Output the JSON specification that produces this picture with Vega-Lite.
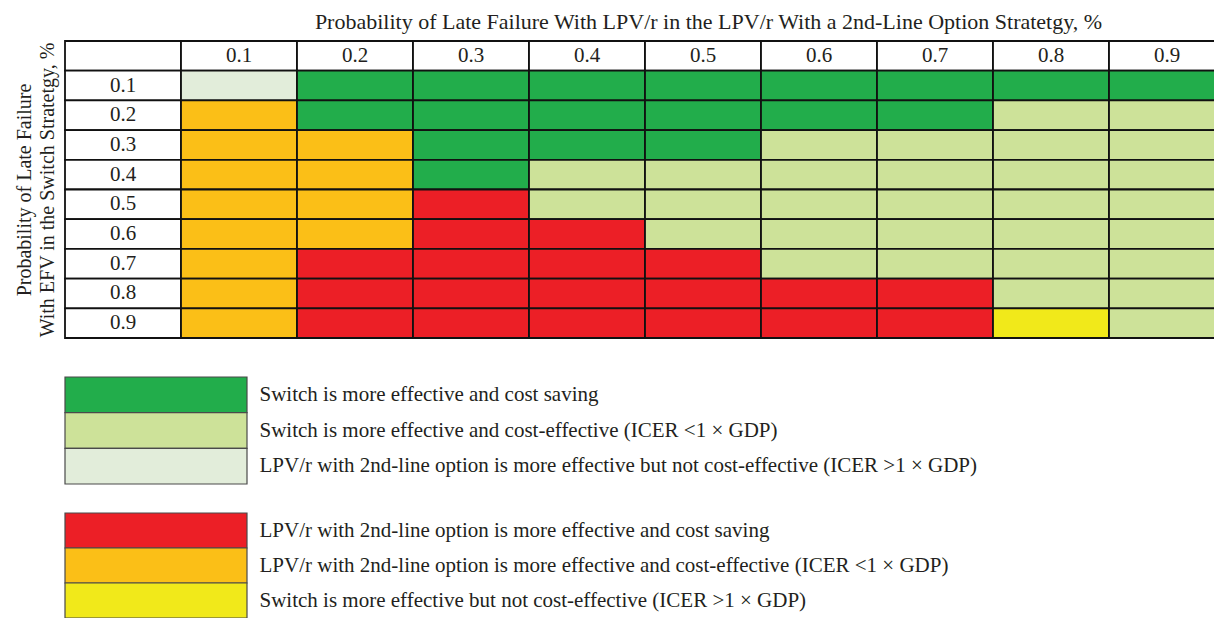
{
  "$schema": "https://vega.github.io/schema/vega-lite/v6.json",
  "background": "white",
  "padding": {"left": 14, "top": 10, "right": 0, "bottom": 0},
  "config": {"view": {"stroke": null}, "font": "Liberation Serif"},
  "bounds": "flush",
  "spacing": 39,
  "datasets": {
    "cells": [
      {"col": "", "row": "hdr", "code": "L", "label": ""},
      {"col": "0.1", "row": "hdr", "code": "L", "label": "0.1"},
      {"col": "0.2", "row": "hdr", "code": "L", "label": "0.2"},
      {"col": "0.3", "row": "hdr", "code": "L", "label": "0.3"},
      {"col": "0.4", "row": "hdr", "code": "L", "label": "0.4"},
      {"col": "0.5", "row": "hdr", "code": "L", "label": "0.5"},
      {"col": "0.6", "row": "hdr", "code": "L", "label": "0.6"},
      {"col": "0.7", "row": "hdr", "code": "L", "label": "0.7"},
      {"col": "0.8", "row": "hdr", "code": "L", "label": "0.8"},
      {"col": "0.9", "row": "hdr", "code": "L", "label": "0.9"},
      {"col": "", "row": "0.1", "code": "L", "label": "0.1"},
      {"col": "", "row": "0.2", "code": "L", "label": "0.2"},
      {"col": "", "row": "0.3", "code": "L", "label": "0.3"},
      {"col": "", "row": "0.4", "code": "L", "label": "0.4"},
      {"col": "", "row": "0.5", "code": "L", "label": "0.5"},
      {"col": "", "row": "0.6", "code": "L", "label": "0.6"},
      {"col": "", "row": "0.7", "code": "L", "label": "0.7"},
      {"col": "", "row": "0.8", "code": "L", "label": "0.8"},
      {"col": "", "row": "0.9", "code": "L", "label": "0.9"},
      {"col": "0.1", "row": "0.1", "code": "C"}, {"col": "0.2", "row": "0.1", "code": "A"}, {"col": "0.3", "row": "0.1", "code": "A"}, {"col": "0.4", "row": "0.1", "code": "A"}, {"col": "0.5", "row": "0.1", "code": "A"}, {"col": "0.6", "row": "0.1", "code": "A"}, {"col": "0.7", "row": "0.1", "code": "A"}, {"col": "0.8", "row": "0.1", "code": "A"}, {"col": "0.9", "row": "0.1", "code": "A"},
      {"col": "0.1", "row": "0.2", "code": "E"}, {"col": "0.2", "row": "0.2", "code": "A"}, {"col": "0.3", "row": "0.2", "code": "A"}, {"col": "0.4", "row": "0.2", "code": "A"}, {"col": "0.5", "row": "0.2", "code": "A"}, {"col": "0.6", "row": "0.2", "code": "A"}, {"col": "0.7", "row": "0.2", "code": "A"}, {"col": "0.8", "row": "0.2", "code": "B"}, {"col": "0.9", "row": "0.2", "code": "B"},
      {"col": "0.1", "row": "0.3", "code": "E"}, {"col": "0.2", "row": "0.3", "code": "E"}, {"col": "0.3", "row": "0.3", "code": "A"}, {"col": "0.4", "row": "0.3", "code": "A"}, {"col": "0.5", "row": "0.3", "code": "A"}, {"col": "0.6", "row": "0.3", "code": "B"}, {"col": "0.7", "row": "0.3", "code": "B"}, {"col": "0.8", "row": "0.3", "code": "B"}, {"col": "0.9", "row": "0.3", "code": "B"},
      {"col": "0.1", "row": "0.4", "code": "E"}, {"col": "0.2", "row": "0.4", "code": "E"}, {"col": "0.3", "row": "0.4", "code": "A"}, {"col": "0.4", "row": "0.4", "code": "B"}, {"col": "0.5", "row": "0.4", "code": "B"}, {"col": "0.6", "row": "0.4", "code": "B"}, {"col": "0.7", "row": "0.4", "code": "B"}, {"col": "0.8", "row": "0.4", "code": "B"}, {"col": "0.9", "row": "0.4", "code": "B"},
      {"col": "0.1", "row": "0.5", "code": "E"}, {"col": "0.2", "row": "0.5", "code": "E"}, {"col": "0.3", "row": "0.5", "code": "D"}, {"col": "0.4", "row": "0.5", "code": "B"}, {"col": "0.5", "row": "0.5", "code": "B"}, {"col": "0.6", "row": "0.5", "code": "B"}, {"col": "0.7", "row": "0.5", "code": "B"}, {"col": "0.8", "row": "0.5", "code": "B"}, {"col": "0.9", "row": "0.5", "code": "B"},
      {"col": "0.1", "row": "0.6", "code": "E"}, {"col": "0.2", "row": "0.6", "code": "E"}, {"col": "0.3", "row": "0.6", "code": "D"}, {"col": "0.4", "row": "0.6", "code": "D"}, {"col": "0.5", "row": "0.6", "code": "B"}, {"col": "0.6", "row": "0.6", "code": "B"}, {"col": "0.7", "row": "0.6", "code": "B"}, {"col": "0.8", "row": "0.6", "code": "B"}, {"col": "0.9", "row": "0.6", "code": "B"},
      {"col": "0.1", "row": "0.7", "code": "E"}, {"col": "0.2", "row": "0.7", "code": "D"}, {"col": "0.3", "row": "0.7", "code": "D"}, {"col": "0.4", "row": "0.7", "code": "D"}, {"col": "0.5", "row": "0.7", "code": "D"}, {"col": "0.6", "row": "0.7", "code": "B"}, {"col": "0.7", "row": "0.7", "code": "B"}, {"col": "0.8", "row": "0.7", "code": "B"}, {"col": "0.9", "row": "0.7", "code": "B"},
      {"col": "0.1", "row": "0.8", "code": "E"}, {"col": "0.2", "row": "0.8", "code": "D"}, {"col": "0.3", "row": "0.8", "code": "D"}, {"col": "0.4", "row": "0.8", "code": "D"}, {"col": "0.5", "row": "0.8", "code": "D"}, {"col": "0.6", "row": "0.8", "code": "D"}, {"col": "0.7", "row": "0.8", "code": "D"}, {"col": "0.8", "row": "0.8", "code": "B"}, {"col": "0.9", "row": "0.8", "code": "B"},
      {"col": "0.1", "row": "0.9", "code": "E"}, {"col": "0.2", "row": "0.9", "code": "D"}, {"col": "0.3", "row": "0.9", "code": "D"}, {"col": "0.4", "row": "0.9", "code": "D"}, {"col": "0.5", "row": "0.9", "code": "D"}, {"col": "0.6", "row": "0.9", "code": "D"}, {"col": "0.7", "row": "0.9", "code": "D"}, {"col": "0.8", "row": "0.9", "code": "F"}, {"col": "0.9", "row": "0.9", "code": "B"}
    ],
    "legend": [
      {"code": "A", "group": 1, "desc": "Switch is more effective and cost saving"},
      {"code": "B", "group": 1, "desc": "Switch is more effective and cost-effective (ICER <1 × GDP)"},
      {"code": "C", "group": 1, "desc": "LPV/r with 2nd-line option is more effective but not cost-effective (ICER >1 × GDP)"},
      {"code": "D", "group": 2, "desc": "LPV/r with 2nd-line option is more effective and cost saving"},
      {"code": "E", "group": 2, "desc": "LPV/r with 2nd-line option is more effective and cost-effective (ICER <1 × GDP)"},
      {"code": "F", "group": 2, "desc": "Switch is more effective but not cost-effective (ICER >1 × GDP)"}
    ]
  },
  "vconcat": [
    {
      "width": 1160,
      "height": 297,
      "data": {"name": "cells"},
      "encoding": {
        "x": {
          "field": "col", "type": "ordinal",
          "scale": {"domain": ["", "0.1", "0.2", "0.3", "0.4", "0.5", "0.6", "0.7", "0.8", "0.9"], "paddingInner": 0, "paddingOuter": 0},
          "axis": {"orient": "top", "labels": false, "ticks": false, "domain": false,
                   "title": "Probability of Late Failure With LPV/r in the LPV/r With a 2nd-Line Option Stratetgy, %",
                   "titleFont": "Liberation Serif", "titleFontSize": 22, "titleFontWeight": "normal", "titleColor": "#231f20", "titlePadding": 8, "titleX": 643}
        },
        "y": {
          "field": "row", "type": "ordinal",
          "scale": {"domain": ["hdr", "0.1", "0.2", "0.3", "0.4", "0.5", "0.6", "0.7", "0.8", "0.9"], "paddingInner": 0, "paddingOuter": 0},
          "axis": {"labels": false, "ticks": false, "domain": false,
                   "title": ["Probability of Late Failure", "With EFV in the Switch Stratetgy, %"],
                   "titleFont": "Liberation Serif", "titleFontSize": 20, "titleFontWeight": "normal", "titleColor": "#231f20", "titlePadding": 8, "titleLineHeight": 23}
        }
      },
      "layer": [
        {
          "mark": {"type": "rect", "stroke": "#111111", "strokeWidth": 1.8},
          "encoding": {
            "color": {"field": "code", "type": "nominal",
                      "scale": {"domain": ["A", "B", "C", "D", "E", "F", "L"], "range": ["#22ad4b", "#cde299", "#e2edda", "#ec1f26", "#fbbf17", "#f1e91a", "#ffffff"]},
                      "legend": null}
          }
        },
        {
          "transform": [{"filter": "datum.code == 'L'"}],
          "mark": {"type": "text", "font": "Liberation Serif", "fontSize": 21, "color": "#231f20"},
          "encoding": {"text": {"field": "label"}}
        }
      ]
    },
    {
      "bounds": "flush",
      "spacing": 29,
      "vconcat": [
        {
          "width": 182,
          "height": 107,
          "data": {"name": "legend"},
          "transform": [{"filter": "datum.group == 1"}],
          "mark": {"type": "rect", "stroke": "#4a4a4a", "strokeWidth": 1.2},
          "encoding": {
            "y": {"field": "desc", "type": "nominal", "sort": null,
                  "scale": {"paddingInner": 0, "paddingOuter": 0},
                  "axis": {"orient": "right", "domain": false, "ticks": false, "title": null, "labelPadding": 12,
                           "labelFont": "Liberation Serif", "labelFontSize": 21, "labelColor": "#231f20", "labelLimit": 1000}},
            "color": {"field": "code", "type": "nominal",
                      "scale": {"domain": ["A", "B", "C", "D", "E", "F", "L"], "range": ["#22ad4b", "#cde299", "#e2edda", "#ec1f26", "#fbbf17", "#f1e91a", "#ffffff"]},
                      "legend": null}
          }
        },
        {
          "width": 182,
          "height": 105,
          "data": {"name": "legend"},
          "transform": [{"filter": "datum.group == 2"}],
          "mark": {"type": "rect", "stroke": "#4a4a4a", "strokeWidth": 1.2},
          "encoding": {
            "y": {"field": "desc", "type": "nominal", "sort": null,
                  "scale": {"paddingInner": 0, "paddingOuter": 0},
                  "axis": {"orient": "right", "domain": false, "ticks": false, "title": null, "labelPadding": 12,
                           "labelFont": "Liberation Serif", "labelFontSize": 21, "labelColor": "#231f20", "labelLimit": 1000}},
            "color": {"field": "code", "type": "nominal",
                      "scale": {"domain": ["A", "B", "C", "D", "E", "F", "L"], "range": ["#22ad4b", "#cde299", "#e2edda", "#ec1f26", "#fbbf17", "#f1e91a", "#ffffff"]},
                      "legend": null}
          }
        }
      ]
    }
  ]
}
